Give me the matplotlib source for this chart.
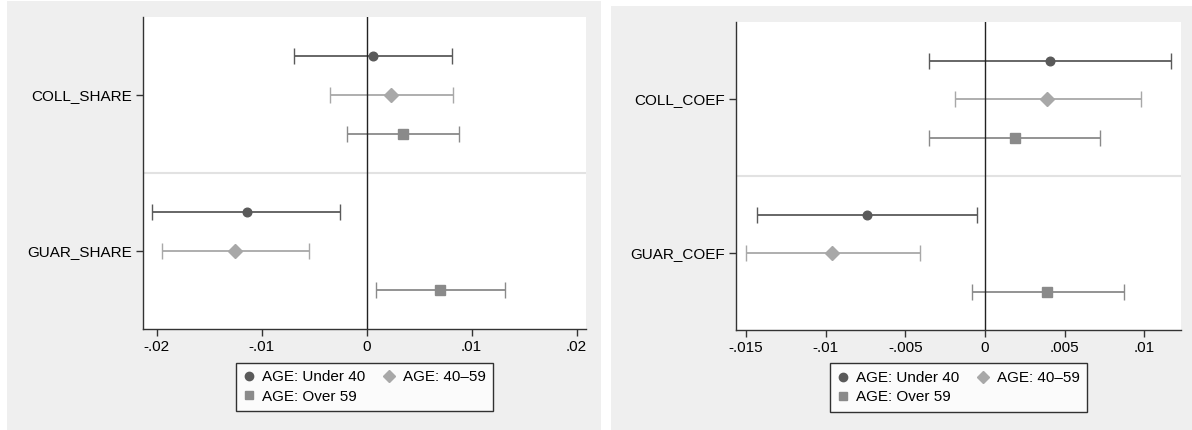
import matplotlib
matplotlib.use("Agg")
import matplotlib.pyplot as plt
from matplotlib.patches import Rectangle
from matplotlib.lines import Line2D

plt.rcParams['font.family'] = ['Liberation Sans', 'DejaVu Sans']

# age groups and their styles
age_labels = ["AGE: Under 40", "AGE: 40\u201359", "AGE: Over 59"]
age_colors = ["#5a5a5a", "#a8a8a8", "#8a8a8a"]
age_markers = ["o", "D", "s"]
age_msize = [6.2, 6.8, 6.5]

# share model: point estimates and 95% CIs (rows: COLL, GUAR; cols: age group)
share_vars = ["COLL_SHARE", "GUAR_SHARE"]
share_coef = [[0.0006, 0.0023, 0.0035], [-0.0114, -0.0125, 0.0070]]
share_lo = [[-0.0069, -0.0035, -0.0019], [-0.0204, -0.0195, 0.0009]]
share_hi = [[0.0081, 0.0082, 0.0088], [-0.0025, -0.0055, 0.0132]]

# coefficient model
coef_vars = ["COLL_COEF", "GUAR_COEF"]
coef_coef = [[0.0041, 0.0039, 0.0019], [-0.0074, -0.0096, 0.0039]]
coef_lo = [[-0.0035, -0.0019, -0.0035], [-0.0143, -0.0150, -0.0008]]
coef_hi = [[0.0117, 0.0098, 0.0072], [-0.0005, -0.0041, 0.0087]]

share_ticks = [-0.02, -0.01, 0, 0.01, 0.02]
share_ticklabels = ["-.02", "-.01", "0", ".01", ".02"]
coef_ticks = [-0.015, -0.01, -0.005, 0, 0.005, 0.01]
coef_ticklabels = ["-.015", "-.01", "-.005", "0", ".005", ".01"]

W, H = 1192, 430
FS = 11
fig = plt.figure(figsize=(W / 100, H / 100), dpi=100)
fig.patch.set_facecolor("white")

# gray graph regions behind each panel
for x0, y0, x1, y1 in [(7, 1, 601, 430), (611, 6, 1192, 430)]:
    fig.patches.append(Rectangle((x0 / W, 1 - y1 / H), (x1 - x0) / W, (y1 - y0) / H,
                                 transform=fig.transFigure, facecolor="#efefef",
                                 edgecolor="none", zorder=-10))


def coef_panel(rect, varnames, coef, lo, hi, xlim, ticks, ticklabels):
    ax = fig.add_axes(rect)
    ax.set_zorder(1)
    ax.set_facecolor("white")
    handles = []
    for i, name in enumerate(varnames):
        for j in range(3):
            y = 1 + 4 * i + j
            c = coef[i][j]
            ax.errorbar([c], [y], xerr=[[c - lo[i][j]], [hi[i][j] - c]],
                        fmt=age_markers[j], color=age_colors[j], ms=age_msize[j],
                        mec=age_colors[j], elinewidth=1.3, capsize=5.5, capthick=1,
                        zorder=3)
    for j in range(3):
        handles.append(Line2D([], [], linestyle="none", marker=age_markers[j],
                              color=age_colors[j], ms=6))
    ax.axvline(0, color="#222222", lw=1, zorder=4)
    ax.axhline(4, color="#e2e2e2", lw=1.5, zorder=1)
    ax.set_ylim(8, 0)
    ax.set_xlim(*xlim)
    ax.set_yticks([2, 6])
    ax.set_yticklabels(varnames, fontsize=FS)
    ax.set_xticks(ticks)
    ax.set_xticklabels(ticklabels, fontsize=FS)
    for s in ["top", "right"]:
        ax.spines[s].set_visible(False)
    for s in ["left", "bottom"]:
        ax.spines[s].set_color("#333333")
        ax.spines[s].set_linewidth(1)
    ax.tick_params(length=5, width=1, color="#333333", pad=3)
    # legend below the axis, two columns
    order = [0, 2, 1]
    leg = ax.legend([handles[k] for k in order], [age_labels[k] for k in order],
                    ncol=2, loc="upper center", bbox_to_anchor=(0.5, -0.108),
                    borderaxespad=0, frameon=True, fancybox=False, fontsize=FS,
                    handlelength=0.7, handletextpad=0.55, columnspacing=1.2,
                    borderpad=0.5, labelspacing=0.35)
    leg.get_frame().set_edgecolor("black")
    leg.get_frame().set_linewidth(1)
    return ax


coef_panel([143 / W, 1 - 329 / H, 443 / W, 312 / H], share_vars,
           share_coef, share_lo, share_hi, (-0.0213, 0.0209),
           share_ticks, share_ticklabels)
coef_panel([736 / W, 1 - 330 / H, 445 / W, 308 / H], coef_vars,
           coef_coef, coef_lo, coef_hi, (-0.01563, 0.01231),
           coef_ticks, coef_ticklabels)

fig.savefig("out.png", dpi=100)
